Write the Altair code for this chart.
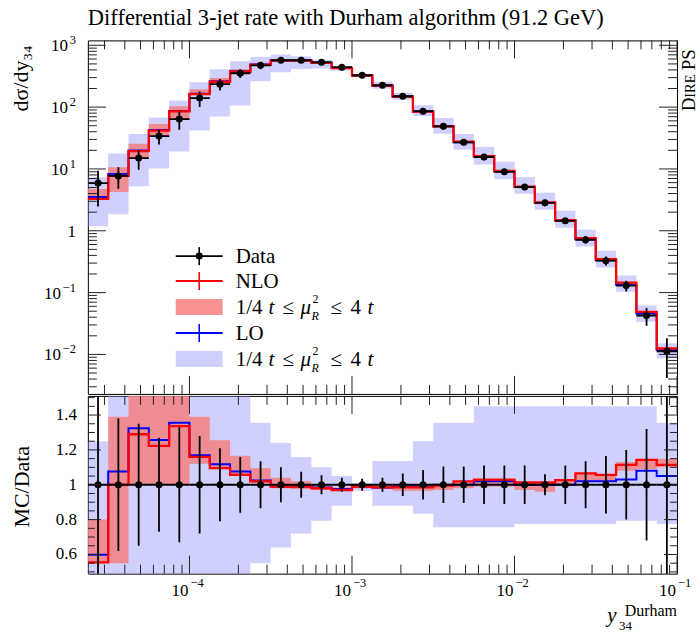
import math
import altair as alt
import pandas as pd

FONT = "Liberation Serif"
W, H1, H2 = 590, 354, 178
PINK = "#f47f7f"
HATCH = "#8a8aff"
TICK = "#222222"

# ---------------- data ----------------
edges = [2.371e-5, 3.162e-5, 4.217e-5, 5.623e-5, 7.499e-5,
         1.0e-4, 1.334e-4, 1.778e-4, 2.371e-4, 3.162e-4, 4.217e-4, 5.623e-4, 7.499e-4,
         1.0e-3, 1.334e-3, 1.778e-3, 2.371e-3, 3.162e-3, 4.217e-3, 5.623e-3, 7.499e-3,
         1.0e-2, 1.334e-2, 1.778e-2, 2.371e-2, 3.162e-2, 4.217e-2, 5.623e-2, 7.499e-2,
         1.0e-1]
data_val = [5.9, 7.7, 15.0, 34.0, 64.0, 140.0, 235.0, 353.0, 475.0, 573.0,
            573.0, 532.0, 442.0, 328.0, 226.0, 150.0, 86.0, 49.0, 27.0, 15.6,
            9.0, 5.1, 2.83, 1.45, 0.716, 0.328, 0.130, 0.0426, 0.0112]
data_rel_err = [0.58, 0.38, 0.35, 0.27, 0.33, 0.28, 0.21, 0.16, 0.135, 0.10,
                0.075, 0.055, 0.04, 0.035, 0.04, 0.065, 0.085, 0.105, 0.105, 0.11,
                0.11, 0.11, 0.06, 0.11, 0.135, 0.165, 0.20, 0.32, 0.63]
nlo_ratio = [0.555, 1.0, 1.29, 1.223, 1.337, 1.16, 1.095, 1.057, 1.019, 0.99,
             0.99, 0.98, 0.97, 0.99, 0.985, 0.985, 0.985, 0.995, 1.02, 1.03,
             1.03, 1.013, 1.013, 1.027, 1.065, 1.057, 1.114, 1.143, 1.114]
lo_ratio = [0.598, 1.076, 1.324, 1.257, 1.356, 1.17, 1.118, 1.076, 1.025, 0.99,
            0.99, 0.985, 0.975, 0.99, 0.985, 0.99, 0.99, 1.0, 1.0, 1.02,
            1.02, 1.0, 1.0, 1.0, 1.02, 1.02, 1.03, 1.08, 1.05]
nlo_band_lo = [0.55, 0.55, 1.0, 1.0, 1.0, 1.12, 1.09, 1.05, 1.01, 0.98,
               0.975, 0.97, 0.965, 0.98, 0.975, 0.965, 0.965, 0.97, 0.98, 0.99,
               0.99, 0.97, 0.96, 0.995, 1.02, 1.02, 1.08, 1.09, 1.10]
nlo_band_hi = [0.80, 1.39, 1.7, 1.57, 1.62, 1.39, 1.255, 1.166, 1.095, 1.04,
               1.02, 1.0, 0.985, 1.0, 0.995, 0.985, 0.99, 1.0, 1.02, 1.03,
               1.03, 1.01, 1.01, 1.03, 1.07, 1.06, 1.13, 1.145, 1.15]
lo_band_lo = [0.2, 0.24, 0.35, 0.3, 0.3, 0.3, 0.3, 0.3, 0.55, 0.64,
              0.72, 0.794, 0.88, 0.966, 0.88, 0.88, 0.834, 0.756, 0.756, 0.756,
              0.756, 0.775, 0.775, 0.775, 0.775, 0.775, 0.794, 0.794, 0.775]
lo_band_hi = [1.25, 2.3, 2.45, 2.0, 2.0, 1.8, 1.74, 1.56, 1.356, 1.24,
              1.16, 1.1, 1.05, 1.01, 1.137, 1.137, 1.25, 1.356, 1.356, 1.45,
              1.45, 1.45, 1.45, 1.45, 1.45, 1.45, 1.45, 1.45, 1.356]

title_text = "Differential 3-jet rate with Durham algorithm (91.2 GeV)"
legend_labels = ["Data", "NLO", "band", "LO", "band"]
x_major = [1e-4, 1e-3, 1e-2, 1e-1]
x_major_exp = ["\u22124", "\u22123", "\u22122", "\u22121"]
y_major_pos = [1e3, 1e2, 1e1]
y_major_pos_exp = ["3", "2", "1"]
y_major_neg = [1e-1, 1e-2]
y_major_neg_exp = ["\u22121", "\u22122"]
r_major = [0.6, 0.8, 1.0, 1.2, 1.4]
r_labels = ["0.6", "0.8", "1", "1.2", "1.4"]

XDOM = [edges[0], edges[-1]]
YDOM = [2.3e-3, 1.2e3]
RDOM = [0.49, 1.51]

xs = alt.Scale(type="log", domain=XDOM, nice=False)
ys = alt.Scale(type="log", domain=YDOM, nice=False)
rs = alt.Scale(type="linear", domain=RDOM, nice=False, zero=False)

# ---------------- tables ----------------
def ext(v):
    return list(v) + [v[-1]]

steps = pd.DataFrame({
    "x": edges,
    "nlo_t": ext([r * d for r, d in zip(nlo_ratio, data_val)]),
    "lo_t": ext([r * d for r, d in zip(lo_ratio, data_val)]),
    "nlo_lo_t": ext([r * d for r, d in zip(nlo_band_lo, data_val)]),
    "nlo_hi_t": ext([r * d for r, d in zip(nlo_band_hi, data_val)]),
    "lo_lo_t": ext([r * d for r, d in zip(lo_band_lo, data_val)]),
    "lo_hi_t": ext([r * d for r, d in zip(lo_band_hi, data_val)]),
    "nlo_r": ext(nlo_ratio),
    "lo_r": ext(lo_ratio),
    "nlo_lo_r": ext(nlo_band_lo),
    "nlo_hi_r": ext(nlo_band_hi),
    "lo_lo_r": ext(lo_band_lo),
    "lo_hi_r": ext(lo_band_hi),
})
bins = pd.DataFrame({
    "lo": edges[:-1],
    "hi": edges[1:],
    "cen": [math.sqrt(a * b) for a, b in zip(edges[:-1], edges[1:])],
    "val": data_val,
    "elo": [v * (1 - e) for v, e in zip(data_val, data_rel_err)],
    "ehi": [v * (1 + e) for v, e in zip(data_val, data_rel_err)],
    "one": [1.0] * len(data_val),
    "rlo": [1 - e for e in data_rel_err],
    "rhi": [1 + e for e in data_rel_err],
})

ONE = pd.DataFrame({"k": [0]})


def X(f):
    return alt.X(f, type="quantitative", scale=xs, axis=None)


def vtext(s, x, y, size, align="left", angle=None, style="normal", baseline="alphabetic"):
    kw = dict(text=s, font=FONT, fontSize=size, align=align, baseline=baseline,
              color="black", fontStyle=style)
    if angle is not None:
        kw["angle"] = angle
    return alt.Chart(ONE).mark_text(**kw).encode(x=alt.value(x), y=alt.value(y))


def panel_ticks(H, yvals_major, yvals_minor, yscale, ymaj_len, ymin_len):
    out = []
    xmin = [k * 10.0 ** e for e in range(-5, -1) for k in range(2, 10)
            if XDOM[0] < k * 10.0 ** e < XDOM[1]]
    for vals, ln in ((x_major, 18), (xmin, 9)):
        base = alt.Chart(pd.DataFrame({"t": vals})).mark_rule(color=TICK, strokeWidth=1)
        out.append(base.encode(x=X("t"), y=alt.value(H), y2=alt.value(H - ln)))
        out.append(base.encode(x=X("t"), y=alt.value(0), y2=alt.value(ln)))
    for vals, ln in ((yvals_major, ymaj_len), (yvals_minor, ymin_len)):
        base = alt.Chart(pd.DataFrame({"t": vals})).mark_rule(color=TICK, strokeWidth=1)
        yy = alt.Y("t:Q", scale=yscale, axis=None)
        out.append(base.encode(y=yy, x=alt.value(0), x2=alt.value(ln)))
        out.append(base.encode(y=yy, x=alt.value(W), x2=alt.value(W - ln)))
    return out


def series_layers(yscale, sfx, data_y, data_lo, data_hi):
    ls = []
    ls.append(alt.Chart(steps).mark_area(interpolate="step-after", color=HATCH, opacity=0.4, clip=True)
              .encode(x=X("x"), y=alt.Y("lo_lo_" + sfx + ":Q", scale=yscale, axis=None),
                      y2="lo_hi_" + sfx + ":Q"))
    ls.append(alt.Chart(steps).mark_area(interpolate="step-after", color=PINK, opacity=0.85, clip=True)
              .encode(x=X("x"), y=alt.Y("nlo_lo_" + sfx + ":Q", scale=yscale, axis=None),
                      y2="nlo_hi_" + sfx + ":Q"))
    ls.append(alt.Chart(steps).mark_line(interpolate="step-after", color="#0000ff", strokeWidth=2.0, clip=True)
              .encode(x=X("x"), y=alt.Y("lo_" + sfx + ":Q", scale=yscale, axis=None)))
    ls.append(alt.Chart(steps).mark_line(interpolate="step-after", color="#ff0000", strokeWidth=2.3, clip=True)
              .encode(x=X("x"), y=alt.Y("nlo_" + sfx + ":Q", scale=yscale, axis=None)))
    ls.append(alt.Chart(bins).mark_rule(color="black", strokeWidth=1.8, clip=True)
              .encode(x=X("lo"), x2="hi:Q", y=alt.Y(data_y + ":Q", scale=yscale, axis=None)))
    ls.append(alt.Chart(bins).mark_rule(color="black", strokeWidth=1.8, clip=True)
              .encode(x=X("cen"), y=alt.Y(data_lo + ":Q", scale=yscale, axis=None), y2=data_hi + ":Q"))
    ls.append(alt.Chart(bins).mark_point(filled=True, color="black", size=50, opacity=1, clip=True)
              .encode(x=X("cen"), y=alt.Y(data_y + ":Q", scale=yscale, axis=None)))
    return ls


# ---------------- top panel ----------------
top_layers = series_layers(ys, "t", "val", "elo", "ehi")

ymin_top = [k * 10.0 ** e for e in range(-3, 3) for k in range(2, 10)
            if YDOM[0] < k * 10.0 ** e < YDOM[1]]
top_layers += panel_ticks(H1, [1e3, 1e2, 1e1, 1, 1e-1, 1e-2], ymin_top, ys, 18, 9)


def ylab(vals, base, exps, base_dx):
    df = pd.DataFrame({"v": vals, "e": exps})
    b = alt.Chart(df).mark_text(text=base, font=FONT, fontSize=17, align="right",
                                baseline="alphabetic", dx=base_dx, dy=6, color="black")
    e = alt.Chart(df).mark_text(font=FONT, fontSize=12.5, align="right",
                                baseline="alphabetic", dy=-1, color="black")
    yy = alt.Y("v:Q", scale=ys, axis=None)
    return [b.encode(y=yy, x=alt.value(-12)), e.encode(y=yy, x=alt.value(-12), text="e:N")]


top_layers += ylab(y_major_pos, "10", y_major_pos_exp, -8)
top_layers += ylab(y_major_neg, "10", y_major_neg_exp, -15)
top_layers.append(alt.Chart(pd.DataFrame({"v": [1.0]})).mark_text(
    text="1", font=FONT, fontSize=17, align="right", baseline="alphabetic", dy=6, color="black")
    .encode(y=alt.Y("v:Q", scale=ys, axis=None), x=alt.value(-12)))

# legend
OX, OY = 87, 41
rows = [257, 282, 308, 334, 360]
sx0, sx1 = 175 - OX, 222 - OX
smid = (sx0 + sx1) / 2
for i, lab in enumerate(legend_labels):
    ry = rows[i] - OY
    if i in (0, 1, 3):
        col = {0: "black", 1: "#ff0000", 3: "#0000ff"}[i]
        top_layers.append(alt.Chart(ONE).mark_rule(color=col, strokeWidth=2 if i else 1.8)
                          .encode(x=alt.value(sx0), x2=alt.value(sx1), y=alt.value(ry)))
        top_layers.append(alt.Chart(ONE).mark_rule(color=col, strokeWidth=1.6)
                          .encode(x=alt.value(smid), y=alt.value(ry - 9), y2=alt.value(ry + 9)))
        if i == 0:
            top_layers.append(alt.Chart(ONE).mark_point(filled=True, color="black", size=50, opacity=1)
                              .encode(x=alt.value(smid), y=alt.value(ry)))
        top_layers.append(vtext(lab, 235 - OX, ry + 7, 21))
    else:
        if i == 2:
            top_layers.append(alt.Chart(ONE).mark_rect(color=PINK, opacity=0.85)
                              .encode(x=alt.value(sx0), x2=alt.value(sx1), y=alt.value(ry - 8), y2=alt.value(ry + 8)))
        else:
            top_layers.append(alt.Chart(ONE).mark_rect(color=HATCH, opacity=0.4)
                              .encode(x=alt.value(sx0), x2=alt.value(sx1), y=alt.value(ry - 8), y2=alt.value(ry + 8)))
        top_layers.append(vtext("1/4", 235 - OX, ry + 7, 21))
        top_layers.append(vtext("t", 268 - OX, ry + 7, 21, style="italic"))
        top_layers.append(vtext("\u2264", 282 - OX, ry + 7, 21))
        top_layers.append(vtext("\u03bc", 300 - OX, ry + 7, 21, style="italic"))
        top_layers.append(vtext("2", 312 - OX, ry - 4, 12))
        top_layers.append(vtext("R", 311 - OX, ry + 13, 12, style="italic"))
        top_layers.append(vtext("\u2264", 330 - OX, ry + 7, 21))
        top_layers.append(vtext("4", 350 - OX, ry + 7, 21))
        top_layers.append(vtext("t", 367 - OX, ry + 7, 21, style="italic"))

# titles
top_layers.append(vtext(title_text, 0, 26 - OY, 22.5))
top_layers.append(vtext("d\u03c3/dy\u2083\u2084", 27 - OX, 79 - OY, 22, align="center", angle=270))
top_layers.append(vtext("D", 695 - OX, 112 - OY, 19, angle=270))
top_layers.append(vtext("IRE", 695 - OX, 112 - OY - 13.5, 14.5, angle=270))
top_layers.append(vtext("PS", 695 - OX, 112 - OY - 41, 19, angle=270))

top = alt.layer(*top_layers).properties(width=W, height=H1)

# ---------------- ratio panel ----------------
bot = series_layers(rs, "r", "one", "rlo", "rhi")

rmin = [round(0.5 + 0.05 * k, 2) for k in range(0, 21)]
rmin = [v for v in rmin if RDOM[0] < v < RDOM[1] and v not in r_major]
bot += panel_ticks(H2, r_major, rmin, rs, 13, 7)

bot.append(alt.Chart(pd.DataFrame({"v": r_major, "l": r_labels})).mark_text(
    font=FONT, fontSize=17, align="right", baseline="middle", color="black")
    .encode(y=alt.Y("v:Q", scale=rs, axis=None), x=alt.value(-11), text="l:N"))

xl = pd.DataFrame({"v": x_major, "e": x_major_exp})
bot.append(alt.Chart(xl).mark_text(text="10", font=FONT, fontSize=17, align="right",
                                   baseline="alphabetic", dx=-1, color="black")
           .encode(x=X("v"), y=alt.value(200)))
bot.append(alt.Chart(xl).mark_text(font=FONT, fontSize=12.5, align="left",
                                   baseline="alphabetic", dx=1, color="black")
           .encode(x=X("v"), y=alt.value(191), text="e:N"))

bot.append(vtext("MC/Data", 28 - OX, 486 - 395, 22, align="center", angle=270))
bot.append(vtext("y", 520, 226, 21, style="italic"))
bot.append(vtext("34", 532, 234, 13))
bot.append(vtext("Durham", 590, 220, 16, align="right"))

bottom = alt.layer(*bot).properties(width=W, height=H2)

chart = (alt.vconcat(top, bottom, spacing=0)
         .resolve_scale(x="independent", y="independent")
         .configure_view(stroke="black", strokeWidth=1)
         .properties(padding={"left": 9, "top": 6, "right": 0, "bottom": 6},
                     background="white"))

chart.save("out.html", embed_options={"renderer": "svg", "actions": False})
